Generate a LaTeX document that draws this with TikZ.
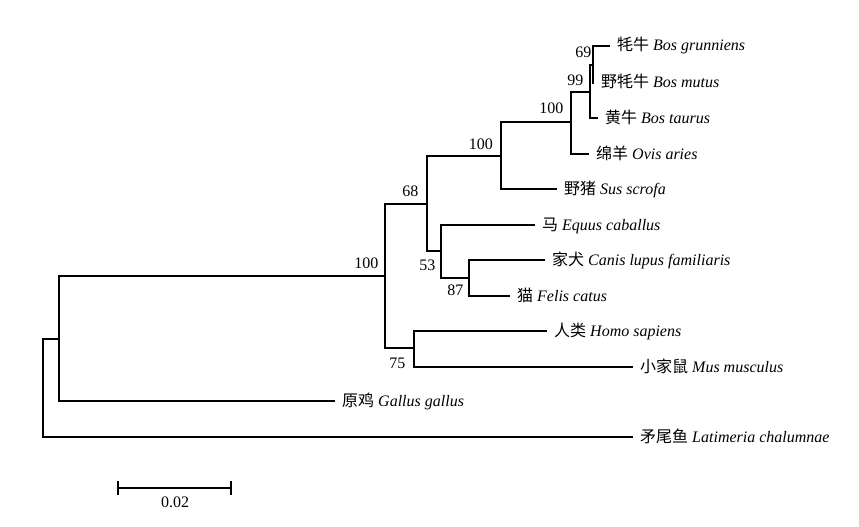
\documentclass[tikz,border=0pt]{standalone}
\usepackage{fontspec}
\setmainfont{Liberation Serif}
\newfontfamily\cjk{Noto Sans CJK SC}
\newcommand{\taxon}[2]{{\cjk #1} \textit{#2}}
\usepackage{tikz}
\usetikzlibrary{calc}

\begin{document}
\begin{tikzpicture}[x=1pt,y=-1pt,
  branch/.style={line width=2pt},
  leaf/.style={anchor=west, inner xsep=7pt, inner ysep=0pt, text height=10pt, text depth=0pt,
    font=\fontsize{16}{18}\selectfont},
  boot/.style={anchor=base east, inner sep=0pt, font=\fontsize{16}{18}\selectfont}]
\useasboundingbox (0,0) rectangle (859,527);
% inner nodes
\coordinate (root) at (43,388);
\coordinate (amn) at (59,339);
\coordinate (mam) at (385,276);
\coordinate (n68) at (427,204);
\coordinate (n100b) at (501,156);
\coordinate (n100c) at (571,122);
\coordinate (n99) at (590,92);
\coordinate (n69) at (593,65);
\coordinate (n53) at (441,251);
\coordinate (n87) at (469,278);
\coordinate (n75) at (414,348);
% leaves
\node[leaf] (grun) at (610,46) {\taxon{牦牛}{Bos grunniens}};
\node[leaf] (mut) at (594,83) {\taxon{野牦牛}{Bos mutus}};
\node[leaf] (tau) at (598,118) {\taxon{黄牛}{Bos taurus}};
\node[leaf] (ovis) at (589,154) {\taxon{绵羊}{Ovis aries}};
\node[leaf] (sus) at (557,189) {\taxon{野猪}{Sus scrofa}};
\node[leaf] (equ) at (535,225) {\taxon{马}{Equus caballus}};
\node[leaf] (can) at (545,260) {\taxon{家犬}{Canis lupus familiaris}};
\node[leaf] (fel) at (510,296) {\taxon{猫}{Felis catus}};
\node[leaf] (homo) at (547,331) {\taxon{人类}{Homo sapiens}};
\node[leaf] (mus) at (633,367) {\taxon{小家鼠}{Mus musculus}};
\node[leaf] (gal) at (335,401) {\taxon{原鸡}{Gallus gallus}};
\node[leaf] (lat) at (633,437) {\taxon{矛尾鱼}{Latimeria chalumnae}};
% branches
\foreach \a/\b in {root/amn, amn/mam, mam/n68, mam/n75, n68/n100b, n68/n53,
    n100b/n100c, n100c/n99, n99/n69, n53/n87}
  \draw[branch] (\a) |- (\b);
\foreach \a/\b in {root/lat, amn/gal, n75/homo, n75/mus, n100b/sus, n100c/ovis,
    n99/tau, n69/grun, n69/mut, n53/equ, n87/can, n87/fel}
  \draw[branch] (\a) |- (\b.west);
% bootstrap values
\node[boot] (b69) at (591.5,57) {69};
\node[boot] (b99) at (583.5,85) {99};
\node[boot] (b100c) at (563.5,113) {100};
\node[boot] (b100b) at (493,149) {100};
\node[boot] (b68) at (418.5,196) {68};
\node[boot] (b100a) at (378.5,268) {100};
\node[boot] (b53) at (435.5,270) {53};
\node[boot] (b87) at (463.5,295) {87};
\node[boot] (b75) at (405.5,368) {75};
% scale bar
\coordinate (sbl) at (118,488);
\coordinate (sbr) at (231,488);
\draw[branch] (sbl) -- (sbr)
  ($(sbl)+(0,-7)$) -- ($(sbl)+(0,7)$)
  ($(sbr)+(0,-7)$) -- ($(sbr)+(0,7)$);
\node[boot, anchor=base] (sbtxt) at (175,507) {0.02};
\end{tikzpicture}
\end{document}
